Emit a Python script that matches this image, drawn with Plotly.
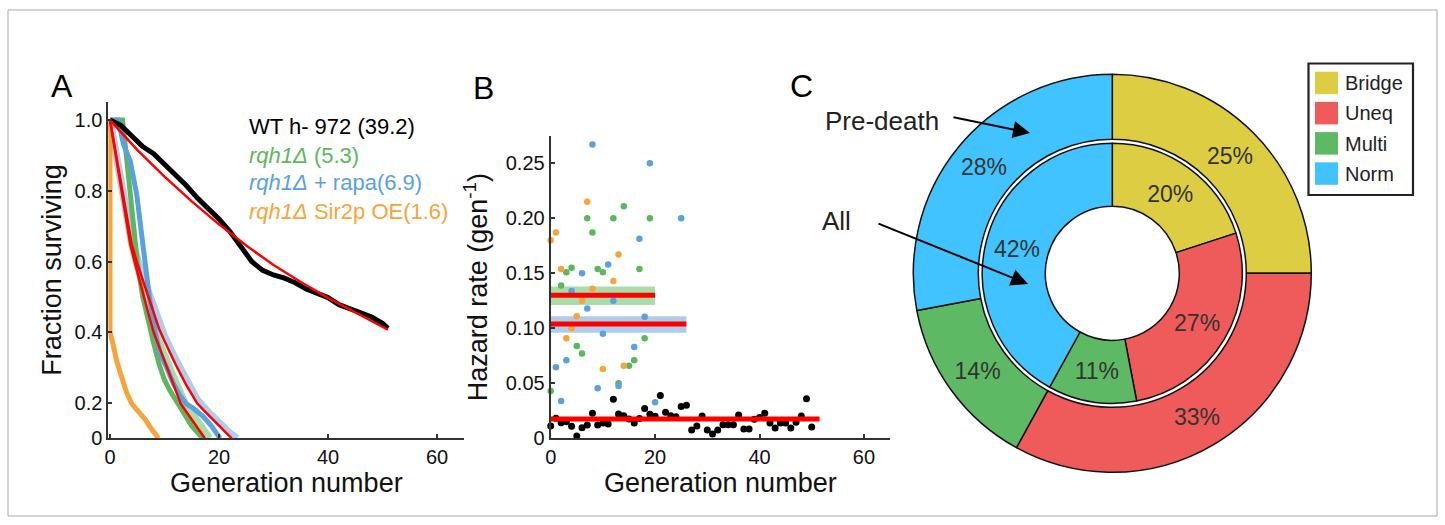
import plotly.graph_objects as go

W, H = 1445, 525
FONT = "Liberation Sans, Arial, sans-serif"

# ---------------- Panel A: survival curves ----------------
wt_gen = [0, 2, 4, 6, 8, 10, 12, 14, 16, 18, 20, 22, 24, 26, 28, 30, 32, 34, 36, 38, 40, 42, 44, 46, 48, 50, 51]
wt_surv = [1.0, 0.985, 0.955, 0.925, 0.905, 0.875, 0.845, 0.815, 0.78, 0.75, 0.72, 0.685, 0.645, 0.6,
           0.575, 0.562, 0.553, 0.54, 0.522, 0.51, 0.498, 0.478, 0.465, 0.455, 0.443, 0.425, 0.411]
wt_fit_gen = [0, 5, 10, 15, 20, 25, 30, 35, 40, 45, 51]
wt_fit = [1.0, 0.916, 0.84, 0.77, 0.705, 0.645, 0.59, 0.542, 0.497, 0.455, 0.407]

rqh_gen = [0, 2.3, 3, 4, 5, 6, 7, 8, 9, 10, 11, 12, 13, 14, 15, 16, 17]
rqh_surv = [1.0, 1.0, 0.9, 0.76, 0.6, 0.5, 0.43, 0.37, 0.31, 0.265, 0.235, 0.21, 0.16, 0.11, 0.07, 0.035, 0.0]
rqh_fit_gen = [0, 1, 2, 3, 3.7, 4.5, 5, 6, 7, 8, 9, 10, 11, 12, 13, 14, 15, 16, 17, 17.4]
rqh_fit = [1.0, 0.905, 0.81, 0.715, 0.65, 0.6, 0.57, 0.515, 0.455, 0.4, 0.36, 0.32, 0.28, 0.24,
           0.195, 0.15, 0.107, 0.063, 0.02, 0.0]
rqh_ci_gen = [0, 2, 4, 6, 8, 10, 12, 14, 16, 17.5, 18.3]
rqh_ci = [1.0, 0.82, 0.645, 0.53, 0.415, 0.335, 0.26, 0.18, 0.1, 0.04, 0.0]

rapa_gen = [0, 1.5, 2.5, 3.7, 4.9, 6.1, 7.3, 8.3, 9.2, 10.4, 11.6, 12.8, 14, 15.3, 17.1, 18.7, 19.5, 20.2]
rapa_surv = [1.0, 1.0, 0.93, 0.885, 0.79, 0.64, 0.49, 0.4, 0.34, 0.3, 0.256, 0.222, 0.195, 0.17,
             0.123, 0.067, 0.03, 0.0]
rapa_fit_gen = [0, 1, 2, 3, 4, 5, 6, 7, 8, 9, 10, 11, 12, 13, 14, 15, 16, 17, 18, 19, 20, 21, 22, 22.3]
rapa_fit = [1.0, 0.91, 0.82, 0.735, 0.648, 0.595, 0.548, 0.5, 0.455, 0.41, 0.375, 0.34, 0.31, 0.28,
            0.25, 0.225, 0.198, 0.165, 0.135, 0.105, 0.07, 0.04, 0.01, 0.0]
rapa_ci_gen = [0, 2, 4, 6, 8, 10, 12, 14, 16, 18, 20, 22, 23.3]
rapa_ci = [1.0, 0.83, 0.665, 0.56, 0.47, 0.39, 0.325, 0.265, 0.21, 0.15, 0.085, 0.03, 0.0]

sir2_gen = [0, 0, 0.5, 1.2, 2, 3.1, 4, 5.5, 6.5, 7.3, 8.2, 8.9]
sir2_surv = [1.0, 0.4, 0.37, 0.32, 0.28, 0.227, 0.195, 0.143, 0.105, 0.067, 0.03, 0.0]

a_ticks = [0, 0.2, 0.4, 0.6, 0.8, 1.0]
a_ticktext = ["0", "0.2", "0.4", "0.6", "0.8", "1.0"]
gen_ticks = [0, 20, 40, 60]

legend_lines = ["WT h- 972 (39.2)", "<i>rqh1Δ</i> (5.3)", "<i>rqh1Δ</i> + rapa(6.9)", "<i>rqh1Δ</i> Sir2p OE(1.6)"]

# ---------------- Panel B: hazard rates ----------------
wt_h_gen = list(range(51))
wt_h = [0.0112, 0.0182, 0.0142, 0.0151, 0.011, 0.002, 0.0097, 0.012, 0.0227, 0.012, 0.014, 0.013,
        0.0354, 0.022, 0.0206, 0.0176, 0.014, 0.018, 0.027, 0.0218, 0.020, 0.0388, 0.0236, 0.0206,
        0.0197, 0.029, 0.030, 0.0076, 0.0112, 0.0203, 0.0076, 0.0039, 0.0076, 0.0124, 0.0124, 0.0124,
        0.0212, 0.0085, 0.0085, 0.0173, 0.0188, 0.0227, 0.0139, 0.0094, 0.0139, 0.0139, 0.0094, 0.0145,
        0.0203, 0.036, 0.0103]
rqh_h_gen = [0, 2, 3, 4, 5, 6, 7, 8, 9, 10, 12, 13, 14, 15, 16, 17, 18, 19]
rqh_h = [0.043, 0.139, 0.151, 0.155, 0.084, 0.077, 0.200, 0.187, 0.154, 0.151, 0.200, 0.050, 0.211,
         0.066, 0.071, 0.154, 0.091, 0.200]
rapa_h_gen = [1, 2, 3, 4, 6, 7, 8, 9, 10, 11, 12, 13, 16, 17, 18, 19, 20, 25]
rapa_h = [0.0645, 0.034, 0.071, 0.134, 0.150, 0.118, 0.267, 0.0455, 0.095, 0.158, 0.125, 0.0475,
          0.083, 0.1815, 0.1106, 0.250, 0.0327, 0.200]
sir2_h_gen = [0, 1, 2, 3, 4, 5, 6, 7, 8, 10, 12, 13, 14]
sir2_h = [0.180, 0.187, 0.154, 0.091, 0.100, 0.111, 0.125, 0.215, 0.136, 0.063, 0.143, 0.167, 0.066]

wt_hfit, wt_hfit_end = 0.0175, 51.5
rqh_hfit, rqh_hci, rqh_hfit_end = 0.130, (0.1212, 0.1379), 20
rapa_hfit, rapa_hci, rapa_hfit_end = 0.104, (0.096, 0.111), 26

b_ticks = [0, 0.05, 0.10, 0.15, 0.20, 0.25]
b_ticktext = ["0", "0.05", "0.10", "0.15", "0.20", "0.25"]

# ---------------- Panel C: donut ----------------
pie_labels = ["Bridge", "Uneq", "Multi", "Norm"]
predeath_pct = [25, 33, 14, 28]
all_pct = [20, 27, 11, 42]
pie_colors = ["#DDCD42", "#EF5A5A", "#5DB964", "#41C3FF"]

# ---------------- styles ----------------
C_BLACK = "#000000"
C_GREEN = "#5CB85C"
C_BLUE = "#5AA1DE"
C_ORANGE = "#F9A43A"
C_RED = "#FF0000"
C_LGREEN = "#AADCAA"
C_LBLUE = "#AECDEC"


def px(x):
    return x / W


def py(y):
    return 1 - y / H


def a_scale(v):
    # panel A y-axis: linear above 0.2, the 0..0.2 span is drawn at half height
    return v if v >= 0.2 else 0.1 + v * 0.5


def a_vals(vs):
    return [a_scale(v) for v in vs]


fig = go.Figure()

# Panel A traces
fig.add_trace(go.Scatter(x=rqh_ci_gen, y=a_vals(rqh_ci), mode="lines",
                         line=dict(color=C_LGREEN, width=7), xaxis="x", yaxis="y"))
fig.add_trace(go.Scatter(x=rapa_ci_gen, y=a_vals(rapa_ci), mode="lines",
                         line=dict(color=C_LBLUE, width=7), xaxis="x", yaxis="y"))
fig.add_trace(go.Scatter(x=rqh_gen, y=a_vals(rqh_surv), mode="lines",
                         line=dict(color=C_GREEN, width=5), xaxis="x", yaxis="y"))
fig.add_trace(go.Scatter(x=rapa_gen, y=a_vals(rapa_surv), mode="lines",
                         line=dict(color=C_BLUE, width=5), xaxis="x", yaxis="y"))
fig.add_trace(go.Scatter(x=sir2_gen, y=a_vals(sir2_surv), mode="lines",
                         line=dict(color=C_ORANGE, width=5), xaxis="x", yaxis="y"))
fig.add_trace(go.Scatter(x=wt_gen, y=a_vals(wt_surv), mode="lines",
                         line=dict(color=C_BLACK, width=5), xaxis="x", yaxis="y"))
for g, s in [(rqh_fit_gen, rqh_fit), (rapa_fit_gen, rapa_fit), (wt_fit_gen, wt_fit)]:
    fig.add_trace(go.Scatter(x=g, y=a_vals(s), mode="lines",
                             line=dict(color=C_RED, width=2.5), xaxis="x", yaxis="y"))

# Panel B traces
for lo_hi, end, col in [(rqh_hci, rqh_hfit_end, C_LGREEN), (rapa_hci, rapa_hfit_end, C_LBLUE)]:
    fig.add_trace(go.Scatter(x=[0, end, end, 0], y=[lo_hi[0], lo_hi[0], lo_hi[1], lo_hi[1]],
                             mode="lines", fill="toself", fillcolor=col, line=dict(width=0),
                             xaxis="x2", yaxis="y2"))
fig.add_trace(go.Scatter(x=wt_h_gen, y=wt_h, mode="markers", cliponaxis=False,
                         marker=dict(color=C_BLACK, size=7), xaxis="x2", yaxis="y2"))
for g, h, col in [(rqh_h_gen, rqh_h, C_GREEN), (rapa_h_gen, rapa_h, C_BLUE), (sir2_h_gen, sir2_h, C_ORANGE)]:
    fig.add_trace(go.Scatter(x=g, y=h, mode="markers", cliponaxis=False,
                             marker=dict(color=col, size=6.5), xaxis="x2", yaxis="y2"))
for val, end in [(rqh_hfit, rqh_hfit_end), (rapa_hfit, rapa_hfit_end), (wt_hfit, wt_hfit_end)]:
    fig.add_trace(go.Scatter(x=[0, end], y=[val, val], mode="lines",
                             line=dict(color=C_RED, width=5), xaxis="x2", yaxis="y2"))

# Panel C: donut rings
cx, cy = 1112.3, 273.3
r_out, r_out_in = 199, 134
r_in, r_hole = 130, 67


def pie_domain(r):
    return dict(x=[px(cx - r), px(cx + r)], y=[py(cy + r), py(cy - r)])


for vals, r, hole in [(predeath_pct, r_out, r_out_in / r_out), (all_pct, r_in, r_hole / r_in)]:
    fig.add_trace(go.Pie(values=vals, labels=pie_labels, hole=hole, domain=pie_domain(r),
                         sort=False, direction="clockwise", rotation=0,
                         marker=dict(colors=pie_colors, line=dict(color="#111111", width=1.5)),
                         texttemplate="%{value}%", textposition="inside",
                         insidetextorientation="horizontal",
                         textfont=dict(size=23, color="#333333", family=FONT),
                         showlegend=False, hoverinfo="skip"))

axis_common = dict(showline=True, linecolor="#333333", linewidth=2, ticks="inside", ticklen=4,
                   tickwidth=1.5, tickcolor="#333333", showgrid=False, zeroline=False,
                   automargin=False,
                   tickfont=dict(size=20, color="#111111", family=FONT))
title_font = dict(size=27, color="#111111", family=FONT)

a_px_per = (464.3 - 110) / 65
fig.update_layout(
    width=W, height=H, margin=dict(l=0, r=0, t=0, b=0, autoexpand=False),
    paper_bgcolor="white", plot_bgcolor="white", showlegend=False,
    font=dict(family=FONT, color="#111111"),
    xaxis=dict(domain=[px(110 - 0.3 * a_px_per), px(464.3)], range=[-0.3, 65], anchor="y",
               tickvals=gen_ticks, title=dict(text="Generation number", font=title_font, standoff=1),
               **axis_common),
    yaxis=dict(domain=[py(438.3), py(101.7)], range=[0.1, 1.052], anchor="x",
               tickvals=a_vals(a_ticks), ticktext=a_ticktext,
               title=dict(text="Fraction surviving", font=title_font, standoff=5), **axis_common),
    xaxis2=dict(domain=[px(550.7), px(890)], range=[0, 65], anchor="y2", tickvals=gen_ticks,
                title=dict(text="Generation number", font=title_font, standoff=1), **axis_common),
    yaxis2=dict(domain=[py(438.3), py(136)], range=[0, 0.2748], anchor="x2",
                tickvals=b_ticks, ticktext=b_ticktext,
                title=dict(text="Hazard rate (gen<sup>-1</sup>)", font=title_font, standoff=10),
                **axis_common),
)

annotations = []
for letter, x, y in [("A", 62, 86), ("B", 483, 88), ("C", 801, 86)]:
    annotations.append(dict(text=letter, x=px(x), y=py(y), xref="paper", yref="paper",
                            xanchor="center", yanchor="middle", showarrow=False,
                            font=dict(size=32, color="black", family=FONT)))
legend_colors = [C_BLACK, C_GREEN, C_BLUE, C_ORANGE]
for i, (txt, col) in enumerate(zip(legend_lines, legend_colors)):
    annotations.append(dict(text=txt, x=px(247), y=py(127 + 28 * i), xref="paper", yref="paper",
                            xanchor="left", yanchor="middle", showarrow=False,
                            font=dict(size=22, color=col, family=FONT)))
annotations.append(dict(text="Pre-death", x=px(882), y=py(121), xref="paper", yref="paper",
                        xanchor="center", yanchor="middle", showarrow=False,
                        font=dict(size=26, color="#222222", family=FONT)))
annotations.append(dict(text="All", x=px(836), y=py(221), xref="paper", yref="paper",
                        xanchor="center", yanchor="middle", showarrow=False,
                        font=dict(size=26, color="#222222", family=FONT)))
for tip, tail in [((1030, 133), (952, 117)), ((1028, 284), (877, 223))]:
    annotations.append(dict(text="", x=px(tip[0]), y=py(tip[1]), xref="paper", yref="paper",
                            ax=tail[0] - tip[0], ay=tail[1] - tip[1], showarrow=True,
                            arrowhead=2, arrowsize=1.7, arrowwidth=2, arrowcolor="black"))
# legend of panel C
shapes = [dict(type="rect", xref="paper", yref="paper", x0=px(1308.5), x1=px(1413),
               y0=py(195), y1=py(63.5), line=dict(color="#222222", width=2.2), fillcolor="white")]
for i, (lab, col) in enumerate(zip(pie_labels, pie_colors)):
    top = 71.7 + 30.2 * i
    shapes.append(dict(type="rect", xref="paper", yref="paper", x0=px(1315), x1=px(1338),
                       y0=py(top + 22.5), y1=py(top), line=dict(width=0), fillcolor=col))
    annotations.append(dict(text=lab, x=px(1343), y=py(top + 11.5), xref="paper", yref="paper",
                            xanchor="left", yanchor="middle", showarrow=False,
                            font=dict(size=20, color="#222222", family=FONT)))
# outer frame
shapes.append(dict(type="rect", xref="paper", yref="paper", x0=px(8), x1=px(1437),
                   y0=py(516), y1=py(10), line=dict(color="#AAAAAA", width=1)))

fig.update_layout(annotations=annotations, shapes=shapes)
fig.write_html("out.html")
